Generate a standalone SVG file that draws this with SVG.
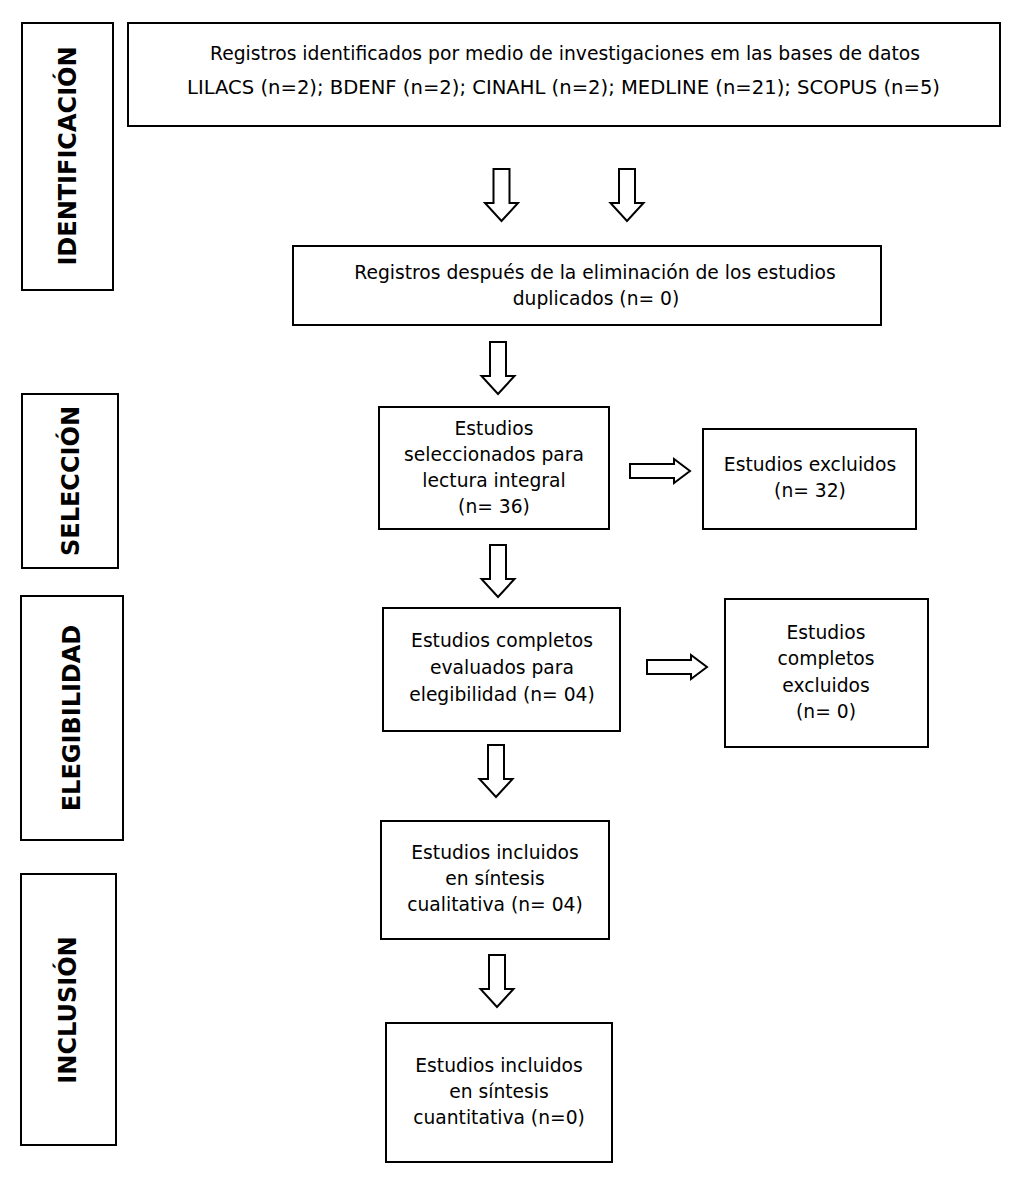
<svg xmlns="http://www.w3.org/2000/svg" xmlns:xlink="http://www.w3.org/1999/xlink" width="1020" height="1188" viewBox="0 0 1020 1188">
<style>
.box{fill:#fff;stroke:#000;stroke-width:2}
.t{font-family:"DejaVu Sans",Verdana,sans-serif;font-size:18.7px;fill:#000;text-anchor:middle}
.v{font-family:"DejaVu Sans",Verdana,sans-serif;font-size:24px;font-weight:bold;fill:#000;text-anchor:middle}
.arr{fill:#fff;stroke:#000;stroke-width:2;stroke-linejoin:miter}
</style>
<defs>
<path id="down" class="arr" d="M-8,0 L8,0 L8,34 L16.5,34 L0,52 L-16.5,34 L-8,34 Z"/>
<path id="right" class="arr" d="M0,-7 L44,-7 L44,-12 L60,0 L44,12 L44,7 L0,7 Z"/>
</defs>
<rect width="1020" height="1188" fill="#fff"/>
<g id="label-identificacion">
<rect class="box" x="22" y="23" width="91" height="267"/>
<text class="v" transform="translate(76,156) rotate(-90)">IDENTIFICACIÓN</text>
</g>
<g id="label-seleccion">
<rect class="box" x="22" y="394" width="96" height="174"/>
<text class="v" transform="translate(79,481) rotate(-90)">SELECCIÓN</text>
</g>
<g id="label-elegibilidad">
<rect class="box" x="21" y="596" width="102" height="244"/>
<text class="v" transform="translate(80,718) rotate(-90)">ELEGIBILIDAD</text>
</g>
<g id="label-inclusion">
<rect class="box" x="21" y="874" width="95" height="271"/>
<text class="v" transform="translate(76,1010) rotate(-90)">INCLUSIÓN</text>
</g>
<g id="n-identificados">
<rect class="box" x="128" y="23" width="872" height="103"/>
<text class="t" x="565" y="60" textLength="710" lengthAdjust="spacingAndGlyphs">Registros identificados por medio de investigaciones em las bases de datos</text>
<text class="t" x="563.5" y="94" textLength="753" lengthAdjust="spacingAndGlyphs">LILACS (n=2); BDENF (n=2); CINAHL (n=2); MEDLINE (n=21); SCOPUS (n=5)</text>
</g>
<g id="n-duplicados">
<rect class="box" x="293" y="246" width="588" height="79"/>
<text class="t" x="595" y="279">Registros después de la eliminación de los estudios</text>
<text class="t" x="596" y="305">duplicados (n= 0)</text>
</g>
<g id="n-seleccionados">
<rect class="box" x="379" y="407" width="230" height="122"/>
<text class="t" x="494" y="435">Estudios</text>
<text class="t" x="494" y="461">seleccionados para</text>
<text class="t" x="494" y="487">lectura integral</text>
<text class="t" x="494" y="513">(n= 36)</text>
</g>
<g id="n-excluidos">
<rect class="box" x="703" y="429" width="213" height="100"/>
<text class="t" x="810" y="471">Estudios excluidos</text>
<text class="t" x="810" y="497">(n= 32)</text>
</g>
<g id="n-completos">
<rect class="box" x="383" y="608" width="237" height="123"/>
<text class="t" x="502" y="647">Estudios completos</text>
<text class="t" x="502" y="674">evaluados para</text>
<text class="t" x="502" y="701">elegibilidad (n= 04)</text>
</g>
<g id="n-completos-excluidos">
<rect class="box" x="725" y="599" width="203" height="148"/>
<text class="t" x="826" y="639">Estudios</text>
<text class="t" x="826" y="665">completos</text>
<text class="t" x="826" y="692">excluidos</text>
<text class="t" x="826" y="718">(n= 0)</text>
</g>
<g id="n-cualitativa">
<rect class="box" x="381" y="821" width="228" height="118"/>
<text class="t" x="495" y="859">Estudios incluidos</text>
<text class="t" x="495" y="885">en síntesis</text>
<text class="t" x="495" y="911">cualitativa (n= 04)</text>
</g>
<g id="n-cuantitativa">
<rect class="box" x="386" y="1023" width="226" height="139"/>
<text class="t" x="499" y="1072">Estudios incluidos</text>
<text class="t" x="499" y="1098">en síntesis</text>
<text class="t" x="499" y="1124">cuantitativa (n=0)</text>
</g>
<g id="connectors">
<use xlink:href="#down" x="501.5" y="169"/>
<use xlink:href="#down" x="627" y="169"/>
<use xlink:href="#down" x="498" y="342"/>
<use xlink:href="#down" x="498" y="545"/>
<use xlink:href="#down" x="496" y="745"/>
<use xlink:href="#down" x="497" y="955"/>
<use xlink:href="#right" x="630" y="471"/>
<use xlink:href="#right" x="647" y="667"/>
</g>
</svg>
